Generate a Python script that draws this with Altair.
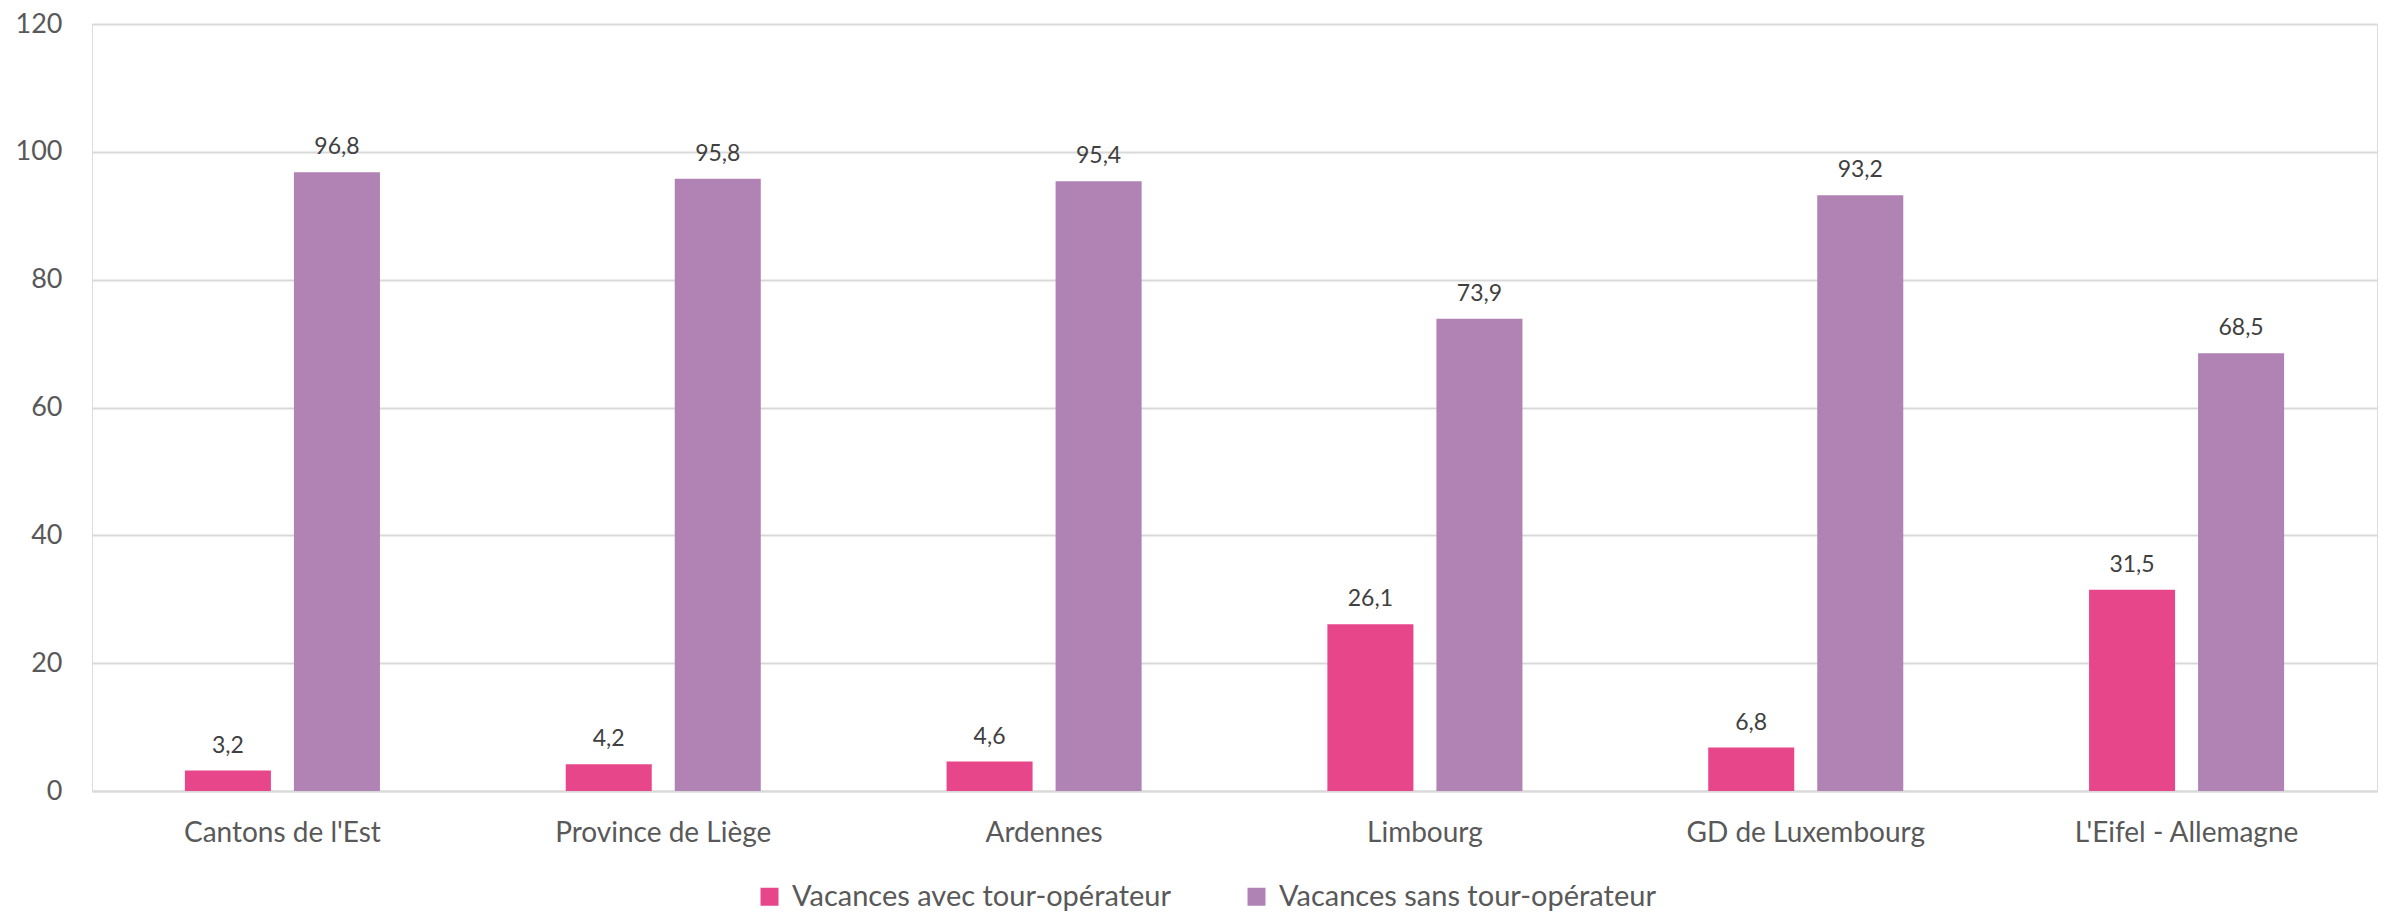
import altair as alt
import pandas as pd

categories = ["Cantons de l'Est", "Province de Liège", "Ardennes", "Limbourg", "GD de Luxembourg", "L'Eifel - Allemagne"]
series_names = ["Vacances avec tour-opérateur", "Vacances sans tour-opérateur"]
avec = [3.2, 4.2, 4.6, 26.1, 6.8, 31.5]
sans = [96.8, 95.8, 95.4, 73.9, 93.2, 68.5]
colors = ["#E8468A", "#B083B4"]

rows = []
for i, c in enumerate(categories):
    rows.append({"cat": c, "serie": series_names[0], "value": avec[i]})
    rows.append({"cat": c, "serie": series_names[1], "value": sans[i]})
df = pd.DataFrame(rows)

FONT = "Lato"

x_enc = alt.X("cat:N", sort=categories,
              scale=alt.Scale(paddingInner=0, paddingOuter=0),
              axis=alt.Axis(title=None, labelAngle=0, labelFontSize=28, labelColor="#595959",
                            labelFont=FONT, ticks=False, tickSize=0, labelPadding=28, labelLimit=0,
                            domainColor="#D9D9D9", domainWidth=2, grid=False))
xoff = alt.XOffset("serie:N", sort=series_names,
                   scale=alt.Scale(paddingInner=0.211, paddingOuter=0.852))
y_enc = alt.Y("value:Q", scale=alt.Scale(domain=[0, 120]),
              axis=alt.Axis(title=None, values=[0, 20, 40, 60, 80, 100, 120], labelFontSize=27,
                            labelColor="#595959", labelFont=FONT, ticks=False, domain=False,
                            labelPadding=30, gridColor="#D9D9D9", gridWidth=2))

bars = alt.Chart(df).mark_bar().encode(
    x=x_enc,
    xOffset=xoff,
    y=y_enc,
    color=alt.Color("serie:N", sort=series_names,
                    scale=alt.Scale(domain=series_names, range=colors),
                    legend=alt.Legend(title=None, orient="none", direction="horizontal",
                                      legendX=663, legendY=858, symbolType="square",
                                      symbolSize=324, symbolStrokeWidth=0, labelFontSize=29,
                                      labelFont=FONT, labelColor="#595959", labelOffset=8,
                                      columnPadding=70, padding=0, labelLimit=800)),
)

labels = alt.Chart(df).transform_calculate(
    lab="replace(format(datum.value, '.1f'), '.', ',')"
).mark_text(baseline="alphabetic", dy=-18, fontSize=23, font=FONT, color="#404040").encode(
    x=alt.X("cat:N", sort=categories),
    xOffset=alt.XOffset("serie:N", sort=series_names),
    y="value:Q",
    text="lab:N",
)

chart = (bars + labels).properties(
    width=2285, height=767,
    autosize=alt.AutoSizeParams(type="none"),
    padding={"left": 84, "top": 16, "right": 4, "bottom": 120},
).configure_view(stroke=None).configure(background="white")

chart.save("out.html", embed_options={"renderer": "svg", "actions": False})
